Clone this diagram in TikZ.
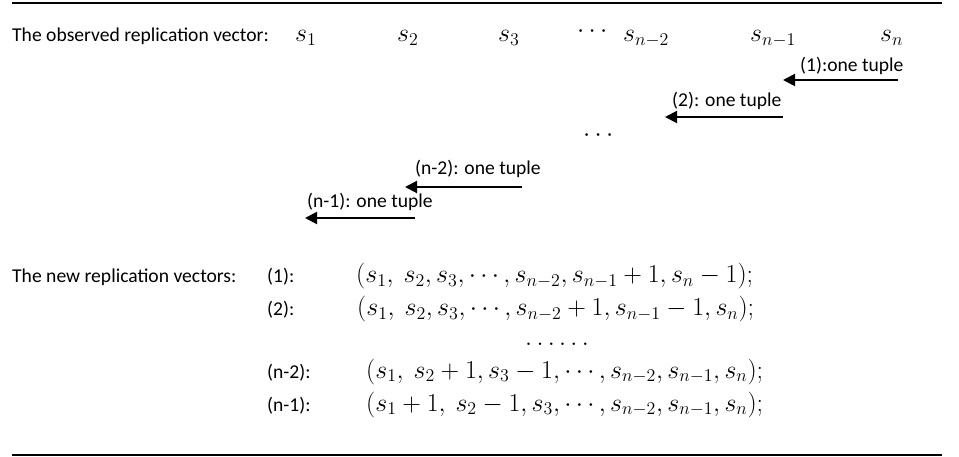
\documentclass[tikz,border=0pt]{standalone}
\usepackage{fontspec}
\setmainfont{Carlito}
\usetikzlibrary{arrows.meta}
\newsavebox\rowbox
\newlength\rowlen
\newcommand\mth[1]{\scalebox{\mscale}{$#1$}}
\newcommand\txtsize{\fontsize{19.6}{23}\selectfont}
\begin{document}
\sbox\rowbox{\txtsize$(s_1,\ s_2,s_3,\cdots,s_{n-2},s_{n-1}+1,s_n-1);$}%
\setlength\rowlen{\wd\rowbox}%
\pgfmathsetmacro\mscale{397/\rowlen}%
\begin{tikzpicture}[x=1pt,y=-1pt,
  txt/.style={font=\txtsize, inner sep=0pt, anchor=base west},
  rule/.style={line width=2pt},
  tuplearrow/.style={line width=2pt, -{Triangle[length=12pt,width=12pt]}}]
\useasboundingbox (0,0) rectangle (959,457);
% rules
\coordinate (tl) at (12,3);
\coordinate (tr) at (942,3);
\coordinate (bl) at (12,455);
\coordinate (br) at (942,455);
\draw[rule] (tl) -- (tr);
\draw[rule] (bl) -- (br);
% observed vector
\node[txt] (obs) at (12,42) {The observed replication vector:};
\node[txt] (s1) at (295,42) {\mth{s_1}};
\node[txt] (s2) at (397,42) {\mth{s_2}};
\node[txt] (s3) at (498,42) {\mth{s_3}};
\node[txt] (sd) at (577,38) {\mth{\cdots}};
\node[txt] (sn2) at (623,42) {\mth{s_{n-2}}};
\node[txt] (sn1) at (750,42) {\mth{s_{n-1}}};
\node[txt] (sn) at (880,42) {\mth{s_n}};
% tuple moves
\node[txt] (t1) at (800,72) {(1):one tuple};
\coordinate (a1s) at (898,80);
\coordinate (a1e) at (783,80);
\draw[tuplearrow] (a1s) -- (a1e);
\node[txt] (t2) at (672,107) {(2): one tuple};
\coordinate (a2s) at (783,117);
\coordinate (a2e) at (665,117);
\draw[tuplearrow] (a2s) -- (a2e);
\node[txt] (td) at (583,142) {\mth{\cdots}};
\node[txt] (t3) at (415,175) {(n-2): one tuple};
\coordinate (a3s) at (522,187);
\coordinate (a3e) at (405,187);
\draw[tuplearrow] (a3s) -- (a3e);
\node[txt] (t4) at (307,208) {(n-1): one tuple};
\coordinate (a4s) at (415,218);
\coordinate (a4e) at (305,218);
\draw[tuplearrow] (a4s) -- (a4e);
% new vectors
\node[txt] (new) at (12,283) {The new replication vectors:};
\node[txt] (l1) at (267,283) {(1):};
\node[txt] (l2) at (267,316) {(2):};
\node[txt] (l3) at (267,378) {(n-2):};
\node[txt] (l4) at (267,411) {(n-1):};
\node[txt] (v1) at (356,283) {\mth{(s_1,\ s_2,s_3,\cdots,s_{n-2},s_{n-1}+1,s_n-1);}};
\node[txt] (v2) at (357,316) {\mth{(s_1,\ s_2,s_3,\cdots,s_{n-2}+1,s_{n-1}-1,s_n);}};
\node[txt] (vd) at (525,345) {\mth{\ldots\ldots}};
\node[txt] (v3) at (366,378) {\mth{(s_1,\ s_2+1,s_3-1,\cdots,s_{n-2},s_{n-1},s_n);}};
\node[txt] (v4) at (366,411) {\mth{(s_1+1,\ s_2-1,s_3,\cdots,s_{n-2},s_{n-1},s_n);}};
\end{tikzpicture}
\end{document}
